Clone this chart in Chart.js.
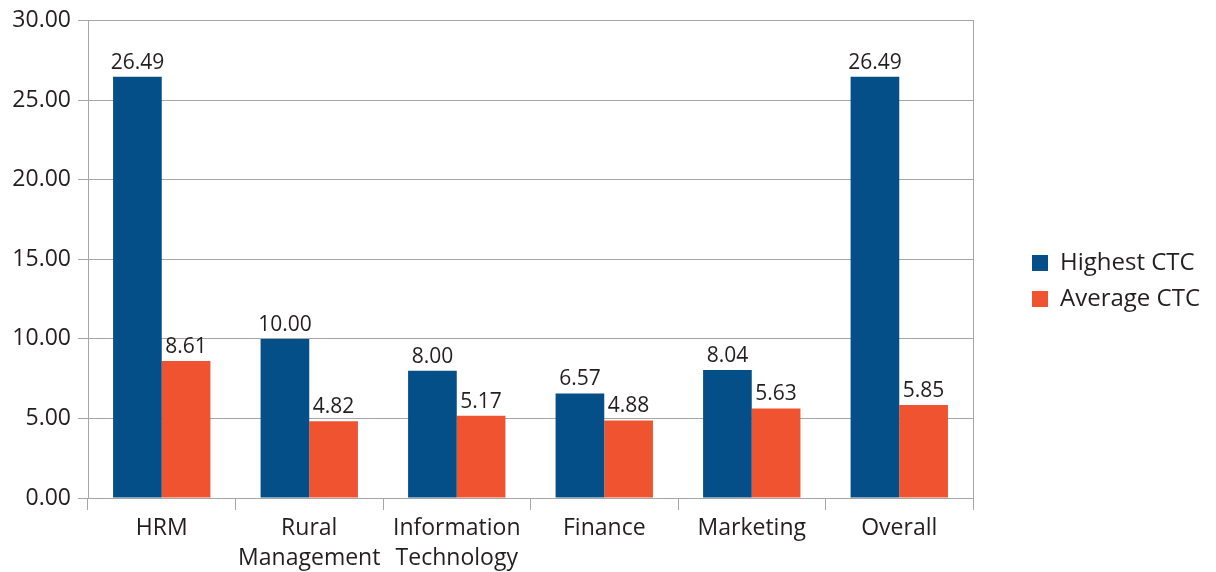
<!DOCTYPE html>
<html>
<head>
<meta charset="utf-8">
<script src="https://cdn.jsdelivr.net/npm/chart.js@4.4.0/dist/chart.umd.min.js"></script>
<style>
  html, body { margin: 0; padding: 0; background: #ffffff; }
  #wrap { width: 1216px; height: 572px; position: relative; }
</style>
</head>
<body>
<div id="wrap"><canvas id="c"></canvas></div>
<script>
const categories = ["HRM", ["Rural", "Management"], ["Information", "Technology"], "Finance", "Marketing", "Overall"];
const seriesNames = ["Highest CTC", "Average CTC"];
const highestCTC = [26.49, 10.00, 8.00, 6.57, 8.04, 26.49];
const averageCTC = [8.61, 4.82, 5.17, 4.88, 5.63, 5.85];
const yTicks = { min: 0, max: 30, step: 5 };

const FONT = "'Open Sans', sans-serif";
const TEXT = "#231f20";
const GRID = "#a6a6a6";

const valueLabels = {
  id: "valueLabels",
  afterDatasetsDraw(chart) {
    const ctx = chart.ctx;
    ctx.save();
    ctx.font = "21px " + FONT;
    ctx.fillStyle = TEXT;
    ctx.textAlign = "center";
    ctx.textBaseline = "alphabetic";
    chart.data.datasets.forEach((ds, i) => {
      chart.getDatasetMeta(i).data.forEach((bar, j) => {
        ctx.fillText(ds.data[j].toFixed(2), bar.x, bar.y - 8);
      });
    });
    ctx.restore();
  }
};

const legendShift = {
  id: "legendShift",
  afterLayout(chart) {
    if (chart.legend) { chart.legend.top -= 14; chart.legend.bottom -= 14; }
  }
};

new Chart(document.getElementById("c"), {
  type: "bar",
  data: {
    labels: categories,
    datasets: [
      { label: seriesNames[0], data: highestCTC, backgroundColor: "#054f89" },
      { label: seriesNames[1], data: averageCTC, backgroundColor: "#f0532f" }
    ]
  },
  options: {
    responsive: true,
    maintainAspectRatio: false,
    animation: false,
    devicePixelRatio: 1,
    layout: { padding: { top: 18, left: 0, right: 6, bottom: 0 } },
    datasets: { bar: { categoryPercentage: 0.66, barPercentage: 1.0 } },
    plugins: {
      legend: {
        position: "right",
        labels: {
          font: { family: FONT, size: 24 },
          color: TEXT,
          boxWidth: 16,
          boxHeight: 16,
          padding: 12
        }
      },
      tooltip: { enabled: false }
    },
    scales: {
      x: {
        grid: { offset: true, drawOnChartArea: false, color: GRID, tickLength: 12 },
        border: { display: false },
        ticks: { font: { family: FONT, size: 23, lineHeight: 1.3 }, color: TEXT, maxRotation: 0, autoSkip: false, padding: 4 },
        afterFit(scale) { scale.height = 74; }
      },
      y: {
        min: yTicks.min, max: yTicks.max,
        grid: { color: GRID, tickLength: 10 },
        border: { color: GRID },
        ticks: { stepSize: yTicks.step, font: { family: FONT, size: 23 }, color: TEXT, padding: 7,
                 callback: v => Number(v).toFixed(2) },
        afterFit(scale) { scale.width = 88; }
      },
      y2: {
        position: "right",
        min: yTicks.min, max: yTicks.max,
        grid: { display: false, drawOnChartArea: false },
        border: { display: true, color: GRID },
        ticks: { display: false },
        afterFit(scale) { scale.width = 47; }
      }
    }
  },
  plugins: [valueLabels, legendShift]
});
</script>
</body>
</html>
